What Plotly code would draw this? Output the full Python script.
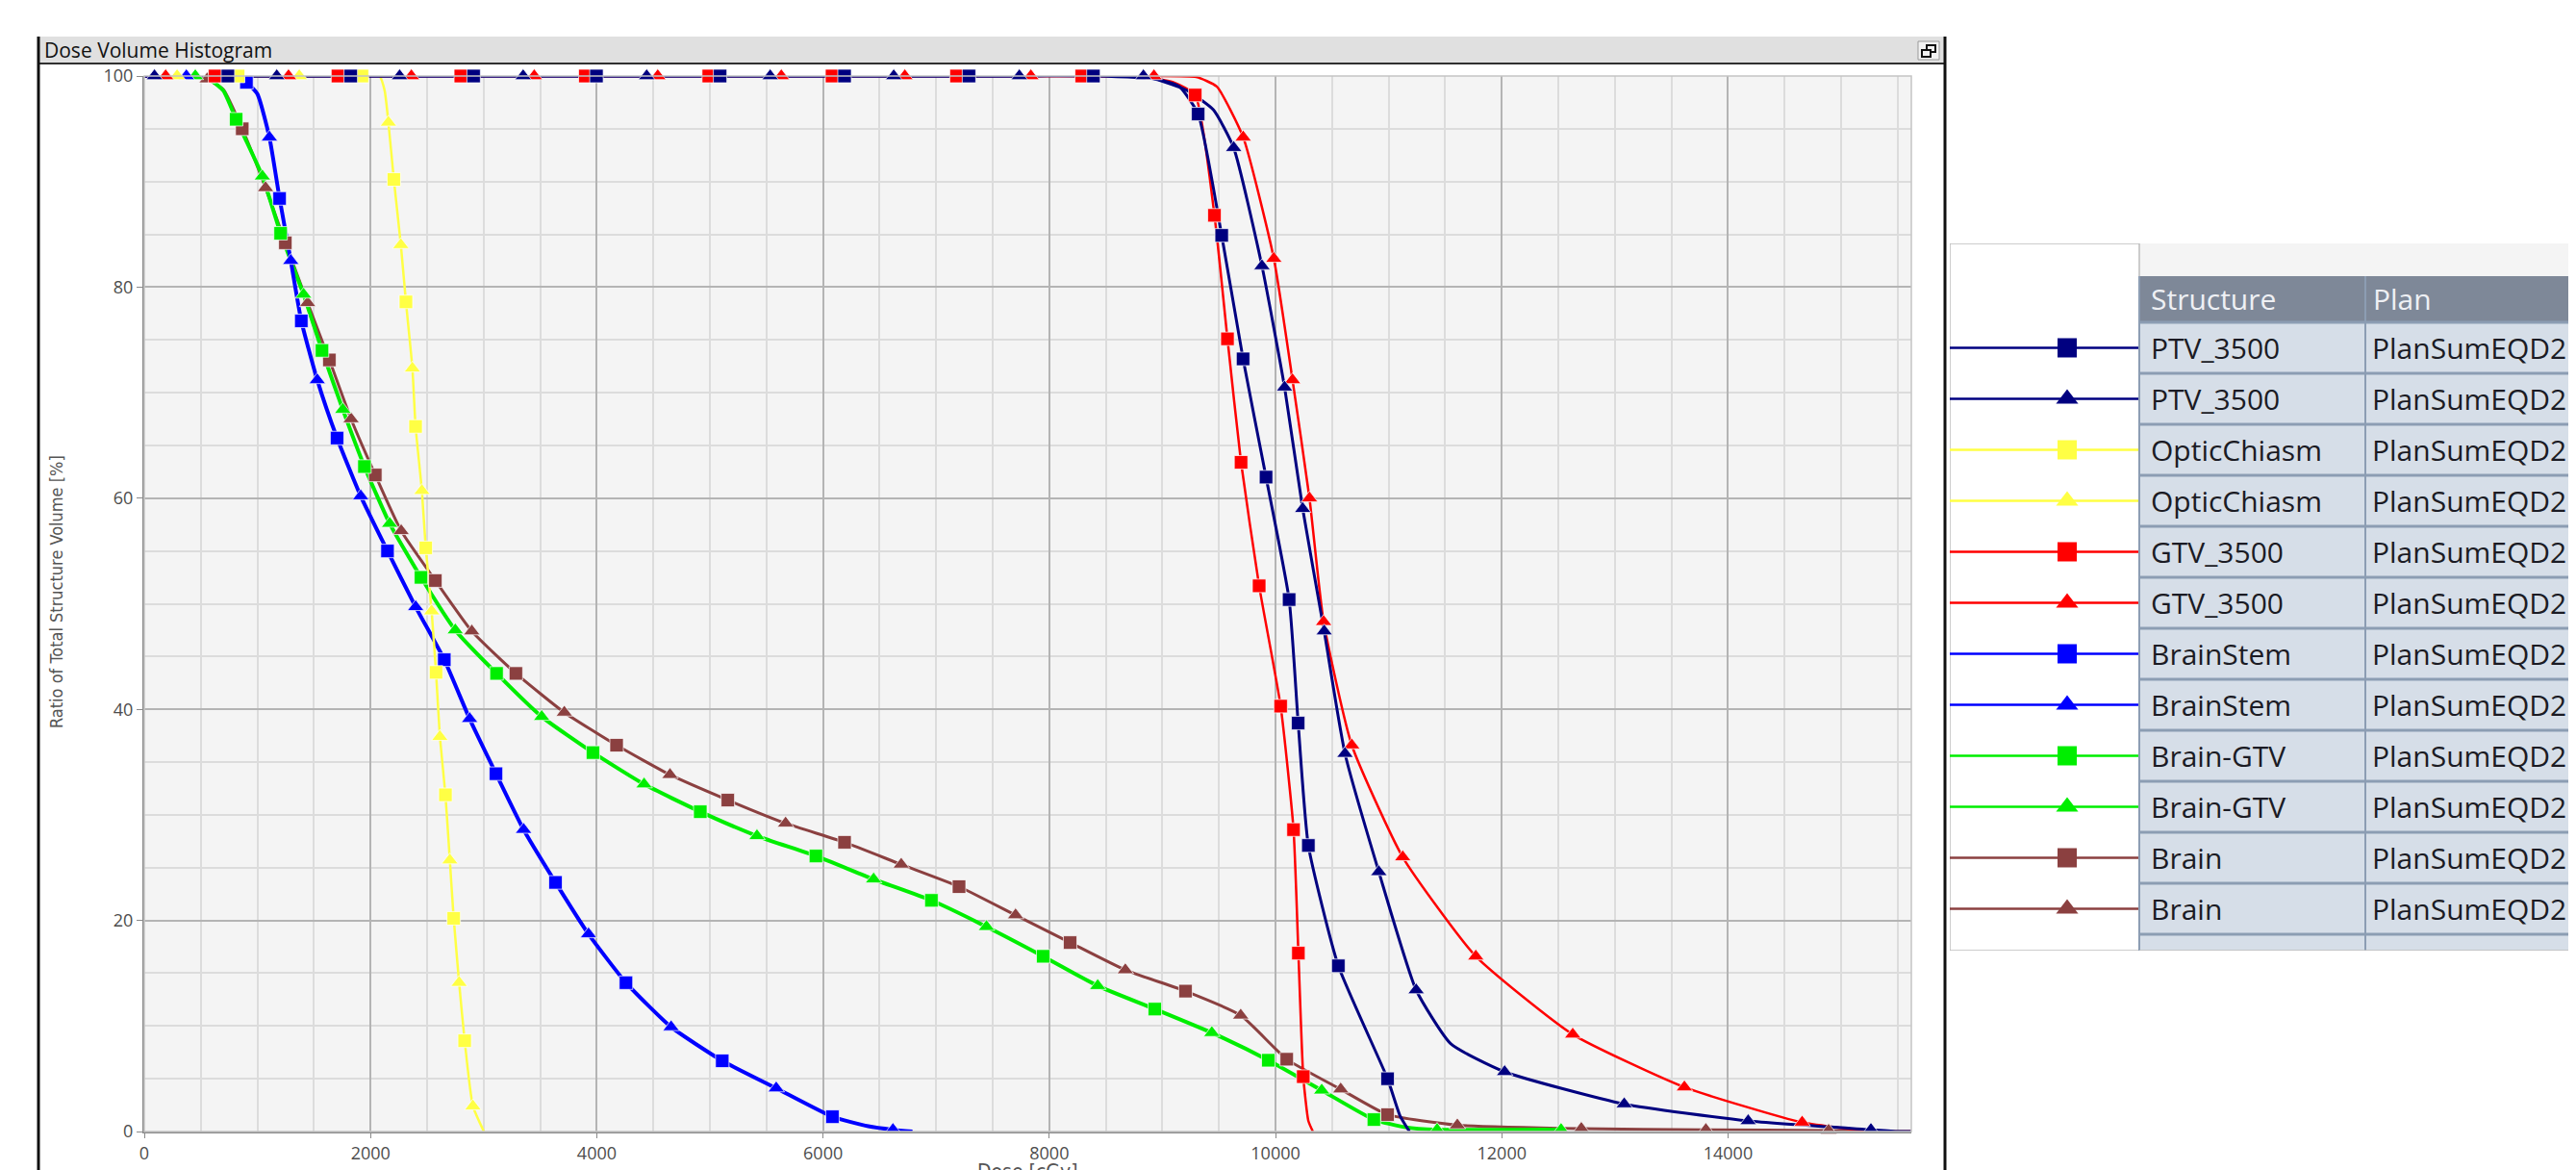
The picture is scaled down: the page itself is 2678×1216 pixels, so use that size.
import plotly.graph_objects as go

W, H = 2678, 1216
OFF = 8  # page body margin of the html page

# ---------------- data (dose in cGy, volume in %) ----------------
x_ticks = [0, 2000, 4000, 6000, 8000, 10000, 12000, 14000]
y_ticks = [0, 20, 40, 60, 80, 100]

legend_structures = ["PTV_3500", "PTV_3500", "OpticChiasm", "OpticChiasm", "GTV_3500", "GTV_3500",
                     "BrainStem", "BrainStem", "Brain-GTV", "Brain-GTV", "Brain", "Brain"]
legend_plans = ["PlanSumEQD2"] * 12
legend_symbols = ["square", "triangle-up"] * 6

# PTV_3500 (square plan)
ptv_sq_dose = [739, 1825, 2911, 3997, 5090, 6190, 7290, 8390, 9316, 9524, 9713, 9916, 10120, 10200, 10290, 10555, 10990]
ptv_sq_vol = [100, 100, 100, 100, 100, 100, 100, 100, 96.4, 84.9, 73.2, 62.0, 50.4, 38.7, 27.1, 15.7, 5.0]
ptv_sq_shape_dose = [0, 8950, 9150, 11100, 11184]
ptv_sq_shape_vol = [100, 99.7, 99.0, 1.5, 0]
# PTV_3500 (triangle plan)
ptv_tri_dose = [90, 1171, 2257, 3349, 4441, 5533, 6625, 7735, 8832, 9630, 9880, 10080, 10240, 10430, 10614, 10913, 11243, 12025, 13082, 14178, 15263]
ptv_tri_vol = [100, 100, 100, 100, 100, 100, 100, 100, 100, 93.2, 82.0, 70.5, 59.0, 47.4, 35.8, 24.6, 13.4, 5.65, 2.6, 1.0, 0.17]
ptv_tri_shape_dose = [0, 9205, 9450, 11550, 15500, 15620]
ptv_tri_shape_vol = [100, 98.7, 96.8, 8.3, 0, 0]
# GTV_3500 (square plan)
gtv_sq_dose = [626, 1712, 2798, 3899, 4990, 6080, 7180, 8287, 9290, 9460, 9575, 9695, 9855, 10045, 10159, 10202, 10245]
gtv_sq_vol = [100, 100, 100, 100, 100, 100, 100, 100, 98.2, 86.8, 75.1, 63.4, 51.7, 40.3, 28.6, 16.9, 5.2]
gtv_sq_shape_dose = [0, 8850, 9100, 10290, 10330]
gtv_sq_shape_vol = [100, 99.9, 99.4, 1.0, 0]
# GTV_3500 (triangle plan)
gtv_tri_dose = [189, 1275, 2361, 3447, 4539, 5631, 6723, 7837, 8925, 9714, 9985, 10150, 10300, 10425, 10674, 11124, 11770, 12627, 13614, 14655]
gtv_tri_vol = [100, 100, 100, 100, 100, 100, 100, 100, 100, 94.2, 82.7, 71.2, 60.0, 48.3, 36.6, 26.0, 16.6, 9.2, 4.2, 0.86]
gtv_tri_shape_dose = [0, 9300, 9480, 15300, 15620]
gtv_tri_shape_vol = [100, 99.9, 99.0, 0, 0]
# OpticChiasm
optic_sq_dose = [829, 1924, 2206, 2313, 2398, 2488, 2579, 2662, 2735, 2832]
optic_sq_vol = [100, 100, 90.2, 78.6, 66.8, 55.3, 43.5, 31.9, 20.2, 8.6]
optic_tri_dose = [290, 1370, 2158, 2268, 2370, 2454, 2540, 2613, 2701, 2783, 2905]
optic_tri_vol = [100, 100, 95.6, 84.0, 72.3, 60.7, 49.3, 37.4, 25.7, 14.1, 2.4]
optic_shape_dose = [0, 2079, 2125, 3002]
optic_shape_vol = [100, 100, 98.6, 0]
# BrainStem
stem_sq_dose = [903, 1196, 1388, 1704, 2150, 2652, 3109, 3635, 4258, 5109, 6083]
stem_sq_vol = [99.4, 88.4, 76.8, 65.7, 55.0, 44.7, 33.9, 23.6, 14.1, 6.7, 1.4]
stem_tri_dose = [372, 1106, 1295, 1529, 1913, 2399, 2876, 3353, 3927, 4657, 5586, 6618]
stem_tri_vol = [100, 94.2, 82.5, 71.2, 60.2, 49.7, 39.1, 28.6, 18.7, 9.9, 4.1, 0.17]
stem_shape_dose = [0, 750, 1000, 6400, 6790]
stem_shape_vol = [100, 100, 98.3, 0.5, 0]
# Brain-GTV
bgtv_sq_dose = [812, 1205, 1571, 1946, 2446, 3114, 3966, 4915, 5937, 6958, 7946, 8933, 9936, 10869]
bgtv_sq_vol = [95.9, 85.1, 74.0, 63.0, 52.5, 43.4, 35.9, 30.3, 26.1, 21.9, 16.6, 11.6, 6.75, 1.13]
bgtv_tri_dose = [451, 1044, 1408, 1755, 2169, 2749, 3513, 4418, 5416, 6447, 7445, 8428, 9437, 10408, 11428, 12524]
bgtv_tri_vol = [100, 90.5, 79.3, 68.4, 57.6, 47.5, 39.3, 32.9, 28.0, 23.9, 19.4, 13.8, 9.35, 3.9, 0.17, 0.17]
bgtv_shape_dose = [0, 600, 700, 11150, 12560]
bgtv_shape_vol = [100, 99.5, 98.6, 0.4, 0.1]
# Brain
brain_sq_dose = [866, 1247, 1636, 2042, 2573, 3285, 4175, 5158, 6190, 7202, 8184, 9204, 10099, 10990]
brain_sq_vol = [95.0, 84.2, 73.1, 62.2, 52.2, 43.4, 36.6, 31.4, 27.4, 23.2, 17.9, 13.3, 6.85, 1.6]
brain_tri_dose = [556, 1072, 1444, 1828, 2271, 2895, 3713, 4647, 5669, 6691, 7702, 8672, 9692, 10576, 11607, 12703, 13804, 14889]
brain_tri_vol = [99.7, 89.4, 78.5, 67.5, 56.9, 47.4, 39.7, 33.8, 29.2, 25.3, 20.5, 15.3, 11.0, 4.0, 0.6, 0.27, 0.17, 0.1]
brain_shape_dose = [0, 400, 700, 15620]
brain_shape_vol = [100, 100, 98.7, 0]

# ---------------- colors / styles ----------------
NAVY, YELLOW, RED, BLUE, GREEN, BROWN = "#000080", "#ffff44", "#ff0000", "#0000ff", "#00ee00", "#8b4040"
legend_colors = [NAVY, NAVY, YELLOW, YELLOW, RED, RED, BLUE, BLUE, GREEN, GREEN, BROWN, BROWN]


def merge(*arrs):
    xs, ys = [], []
    for i in range(0, len(arrs), 2):
        xs += list(arrs[i]); ys += list(arrs[i + 1])
    pts = sorted(zip(xs, ys), key=lambda p: (p[0], -p[1]))
    return [p[0] for p in pts], [p[1] for p in pts]


series = [
    (merge(brain_sq_dose, brain_sq_vol, brain_tri_dose, brain_tri_vol, brain_shape_dose, brain_shape_vol),
     brain_sq_dose, brain_sq_vol, BROWN, "square", 3),
    (None, brain_tri_dose, brain_tri_vol, BROWN, "triangle-up", 3),
    (merge(bgtv_sq_dose, bgtv_sq_vol, bgtv_tri_dose, bgtv_tri_vol, bgtv_shape_dose, bgtv_shape_vol),
     bgtv_sq_dose, bgtv_sq_vol, GREEN, "square", 4),
    (None, bgtv_tri_dose, bgtv_tri_vol, GREEN, "triangle-up", 4),
    (merge(stem_sq_dose, stem_sq_vol, stem_tri_dose, stem_tri_vol, stem_shape_dose, stem_shape_vol),
     stem_sq_dose, stem_sq_vol, BLUE, "square", 4),
    (None, stem_tri_dose, stem_tri_vol, BLUE, "triangle-up", 4),
    (merge(optic_sq_dose, optic_sq_vol, optic_tri_dose, optic_tri_vol, optic_shape_dose, optic_shape_vol),
     optic_sq_dose, optic_sq_vol, YELLOW, "square", 2.5),
    (None, optic_tri_dose, optic_tri_vol, YELLOW, "triangle-up", 2.5),
    (merge(gtv_sq_dose, gtv_sq_vol, gtv_sq_shape_dose, gtv_sq_shape_vol),
     gtv_sq_dose, gtv_sq_vol, RED, "square", 2.5),
    (merge(gtv_tri_dose, gtv_tri_vol, gtv_tri_shape_dose, gtv_tri_shape_vol),
     gtv_tri_dose, gtv_tri_vol, RED, "triangle-up", 2.5),
    (merge(ptv_sq_dose, ptv_sq_vol, ptv_sq_shape_dose, ptv_sq_shape_vol),
     ptv_sq_dose, ptv_sq_vol, NAVY, "square", 3),
    (merge(ptv_tri_dose, ptv_tri_vol, ptv_tri_shape_dose, ptv_tri_shape_vol),
     ptv_tri_dose, ptv_tri_vol, NAVY, "triangle-up", 3),
]

fig = go.Figure()

for curve, mx, my, col, sym, lw in series:
    if curve is not None:
        fig.add_trace(go.Scatter(x=curve[0], y=curve[1], mode="lines",
                                 line=dict(color=col, width=lw, shape="spline", smoothing=0.5),
                                 cliponaxis=False, hoverinfo="skip", showlegend=False))
for curve, mx, my, col, sym, lw in series:
    fig.add_trace(go.Scatter(x=mx, y=my, mode="markers",
                             marker=dict(symbol=sym, size=14 if sym == "square" else 15, color=col,
                                         line=dict(width=1, color="rgba(255,255,255,0.7)")),
                             cliponaxis=False, hoverinfo="skip", showlegend=False))

# ---------------- legend panel (secondary axes, pixel-like units) ----------------
PANEL_X0, PANEL_Y0 = 2027, 253
BOX_W = 197          # white sample box width
ROW_H = 53
HDR_TOP, HDR_BOT = 34, 82
COL2 = 432
PANEL_H = 735
MARK_X = 122

for i, (col, sym) in enumerate(zip(legend_colors, legend_symbols)):
    yc = HDR_BOT + ROW_H * i + ROW_H / 2
    fig.add_trace(go.Scatter(x=[0, BOX_W], y=[yc, yc], mode="lines", line=dict(color=col, width=2.5),
                             xaxis="x2", yaxis="y2", hoverinfo="skip", showlegend=False))
    fig.add_trace(go.Scatter(x=[MARK_X], y=[yc], mode="markers",
                             marker=dict(symbol=sym, size=20, color=col),
                             xaxis="x2", yaxis="y2", hoverinfo="skip", showlegend=False))

shapes = []
annotations = []


def fx(x):
    return (x - OFF) / W


def fy(y):
    return 1 - (y - OFF) / H


def prect(x0, y0, x1, y1, **kw):
    shapes.append(dict(type="rect", xref="paper", yref="paper", x0=fx(x0), y0=fy(y1), x1=fx(x1), y1=fy(y0), **kw))


def pline(x0, y0, x1, y1, **kw):
    shapes.append(dict(type="line", xref="paper", yref="paper", x0=fx(x0), y0=fy(y0), x1=fx(x1), y1=fy(y1), **kw))


# window title bar and frame
prect(40, 38, 2022, 65, fillcolor="#e0e0e0", line=dict(width=0), layer="below")
pline(40, 66, 2022, 66, line=dict(color="#303030", width=2))
pline(40, 38, 40, 1230, line=dict(color="#101010", width=3))
pline(2022, 38, 2022, 1230, line=dict(color="#101010", width=3))
# restore button
prect(1994, 43, 2016, 62, fillcolor="#f2f2f2", line=dict(color="#9a9a9a", width=1))
prect(2003, 47, 2012, 54, fillcolor="rgba(0,0,0,0)", line=dict(color="#111111", width=2))
prect(1998, 52, 2007, 59, fillcolor="#f2f2f2", line=dict(color="#111111", width=2))
# plot frame
prect(150, 79, 1987, 1176, fillcolor="rgba(0,0,0,0)", line=dict(color="#c4c4c4", width=1.5))

annotations.append(dict(xref="paper", yref="paper", x=fx(44), y=fy(52), xanchor="left", yanchor="middle",
                        text="Dose Volume Histogram", showarrow=False,
                        font=dict(family="Open Sans", size=21, color="#111111")))
annotations.append(dict(xref="paper", yref="paper", x=fx(58), y=fy(615), xanchor="center", yanchor="middle",
                        text="Ratio of Total Structure Volume [%]", textangle=-90, showarrow=False,
                        font=dict(family="Liberation Sans Narrow, DejaVu Sans Condensed, Roboto", size=18, color="#555555")))
annotations.append(dict(xref="paper", yref="paper", x=fx(1068), y=fy(1205), xanchor="center", yanchor="top",
                        text="Dose [cGy]", showarrow=False, borderpad=0,
                        font=dict(family="Liberation Sans Narrow, DejaVu Sans Condensed, Roboto", size=21, color="#555555")))


def arect(x0, y0, x1, y1, **kw):
    shapes.append(dict(type="rect", xref="x2", yref="y2", x0=x0, y0=y0, x1=x1, y1=y1, **kw))


def aline(x0, y0, x1, y1, **kw):
    shapes.append(dict(type="line", xref="x2", yref="y2", x0=x0, y0=y0, x1=x1, y1=y1, **kw))


arect(0, 0, BOX_W, PANEL_H, fillcolor="white", line=dict(color="#bdbdbd", width=1.5), layer="below")
arect(BOX_W, HDR_TOP, 700, HDR_BOT, fillcolor="#7e8898", line=dict(width=0), layer="below")
arect(BOX_W, HDR_BOT, 700, PANEL_H, fillcolor="#d6dee8", line=dict(width=0), layer="below")
for k in range(len(legend_structures) + 1):
    yy = HDR_BOT + ROW_H * k
    aline(BOX_W, yy, 700, yy, line=dict(color="#8c9db3", width=3))
aline(BOX_W, HDR_TOP, BOX_W, PANEL_H, line=dict(color="#8c9db3", width=2))
aline(COL2, HDR_TOP, COL2, PANEL_H, line=dict(color="#8c9db3", width=2))
aline(BOX_W, PANEL_H, 700, PANEL_H, line=dict(color="#bdbdbd", width=1.5))

TFONT = "Open Sans, Noto Sans"
TSIZE = 30
annotations.append(dict(xref="x2", yref="y2", x=BOX_W + 10, y=(HDR_TOP + HDR_BOT) / 2, xanchor="left", yanchor="middle",
                        text="Structure", showarrow=False, font=dict(family=TFONT, size=TSIZE, color="#eef0f4")))
annotations.append(dict(xref="x2", yref="y2", x=COL2 + 6, y=(HDR_TOP + HDR_BOT) / 2, xanchor="left", yanchor="middle",
                        text="Plan", showarrow=False, font=dict(family=TFONT, size=TSIZE, color="#eef0f4")))
for i, (s, p) in enumerate(zip(legend_structures, legend_plans)):
    yc = HDR_BOT + ROW_H * i + ROW_H / 2
    annotations.append(dict(xref="x2", yref="y2", x=BOX_W + 10, y=yc, xanchor="left", yanchor="middle",
                            text=s, showarrow=False, font=dict(family=TFONT, size=TSIZE, color="#1b1b24")))
    annotations.append(dict(xref="x2", yref="y2", x=COL2 + 5, y=yc, xanchor="left", yanchor="middle",
                            text=p, showarrow=False, font=dict(family=TFONT, size=TSIZE, color="#1b1b24")))

TICKFONT = dict(family="Open Sans", size=18, color="#4d4d4d")

fig.update_layout(
    width=W, height=H, autosize=False,
    margin=dict(l=0, r=0, t=0, b=0, pad=0, autoexpand=False),
    paper_bgcolor="white", plot_bgcolor="#f4f4f4",
    showlegend=False,
    shapes=shapes, annotations=annotations,
    xaxis=dict(domain=[fx(150), fx(1987)], range=[0, 15620], tickvals=x_ticks, ticktext=[str(v) for v in x_ticks],
               showgrid=True, gridcolor="#b4b4b4", gridwidth=2,
               minor=dict(dtick=500, tick0=0, showgrid=True, gridcolor="#dcdcdc", gridwidth=1.5),
               showline=True, linecolor="#8a8a8a", linewidth=2, ticks="outside", ticklen=5, tickcolor="#8a8a8a",
               tickfont=TICKFONT, zeroline=False, fixedrange=True, anchor="y", automargin=False),
    yaxis=dict(domain=[fy(1176), fy(79)], range=[0, 100], tickvals=y_ticks, ticktext=[str(v) for v in y_ticks],
               showgrid=True, gridcolor="#b4b4b4", gridwidth=2,
               minor=dict(dtick=5, tick0=0, showgrid=True, gridcolor="#dcdcdc", gridwidth=1.5),
               showline=True, linecolor="#8a8a8a", linewidth=2, ticks="outside", ticklen=6, tickcolor="#8a8a8a",
               tickfont=TICKFONT, zeroline=False, fixedrange=True, anchor="x", automargin=False),
    xaxis2=dict(domain=[fx(PANEL_X0), 1], range=[0, W + OFF - PANEL_X0], visible=False, anchor="y2",
                fixedrange=True, automargin=False),
    yaxis2=dict(domain=[fy(PANEL_Y0 + PANEL_H), fy(PANEL_Y0)], range=[PANEL_H, 0], visible=False,
                anchor="x2", fixedrange=True, automargin=False),
)

fig.write_html("out.html")
